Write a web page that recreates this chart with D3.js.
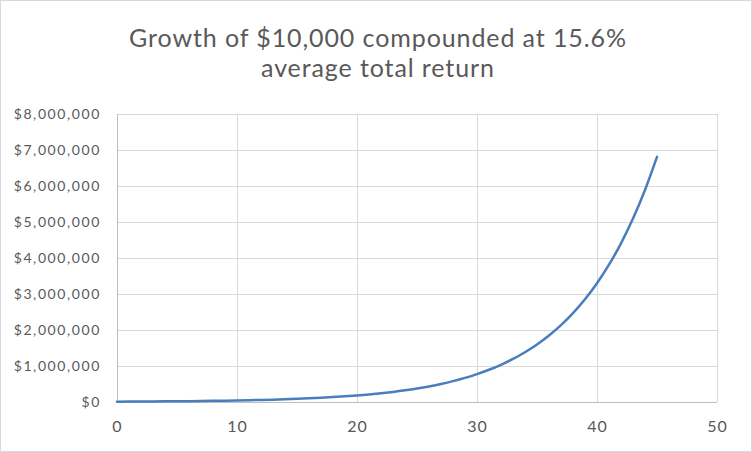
<!DOCTYPE html>
<html><head><meta charset="utf-8">
<script src="https://cdn.jsdelivr.net/npm/d3@7"></script>
<style>body{margin:0;background:#fff}svg{display:block}</style>
</head><body>
<script>
const years = [0,1,2,3,4,5,6,7,8,9,10,11,12,13,14,15,16,17,18,19,20,21,22,23,24,25,26,27,28,29,30,31,32,33,34,35,36,37,38,39,40,41,42,43,44,45];
const values = [10000,11560,13363,15448,17858,20644,23864,27587,31891,36866,42617,49265,56950,65835,76105,87977,101702,117567,135907,157109,181618,209950,242703,280565,324333,374929,433418,501031,579192,669546,773995,894738,1034317,1195670,1382195,1597817,1847077,2135221,2468315,2853372,3298498,3813064,4407902,5095535,5890439,6809348];
const xTicks = [0,10,20,30,40,50];
const yTicks = [0,1000000,2000000,3000000,4000000,5000000,6000000,7000000,8000000];
const titleLines = ["Growth of $10,000 compounded  at 15.6%", "average total return"];

const W = 752, H = 452;
const svg = d3.select("body").append("svg").attr("width", W).attr("height", H);
svg.append("rect").attr("x",0.5).attr("y",0.5).attr("width",W-1).attr("height",H-1)
  .attr("fill","#fff").attr("stroke","#d9d9d9");

const x = d3.scaleLinear().domain([0,50]).range([117,717]);
const y = d3.scaleLinear().domain([0,8000000]).range([402,114]);
const font = "Lato, 'Open Sans', sans-serif";

// gridlines
svg.append("g").selectAll("line").data(yTicks.slice(1)).join("line")
  .attr("x1",x(0)).attr("x2",x(50)).attr("y1",d=>Math.round(y(d))+0.5).attr("y2",d=>Math.round(y(d))+0.5)
  .attr("stroke","#d9d9d9").attr("stroke-width",1);
svg.append("g").selectAll("line").data(xTicks.slice(1)).join("line")
  .attr("y1",y(0)).attr("y2",y(8000000)).attr("x1",d=>Math.round(x(d))+0.5).attr("x2",d=>Math.round(x(d))+0.5)
  .attr("stroke","#d9d9d9").attr("stroke-width",1);
// axis lines
svg.append("line").attr("x1",x(0)+0.5).attr("x2",x(0)+0.5).attr("y1",y(0)).attr("y2",y(8000000)).attr("stroke","#bfbfbf");
svg.append("line").attr("x1",x(0)).attr("x2",x(50)).attr("y1",Math.round(y(0))+0.5).attr("y2",Math.round(y(0))+0.5).attr("stroke","#bfbfbf");

// tick labels
const fmt = d3.format("$,.0f");
svg.append("g").selectAll("text").data(yTicks).join("text")
  .attr("x",101).attr("y",d=>y(d)).attr("dy","0.36em").attr("text-anchor","end")
  .attr("font-family",font).attr("font-size",14).attr("letter-spacing","1.6px")
  .attr("fill","#595959").text(d=>fmt(d));
svg.append("g").selectAll("text").data(xTicks).join("text")
  .attr("x",d=>x(d)+0.5).attr("y",432).attr("text-anchor","middle")
  .attr("font-family",font).attr("font-size",16).attr("letter-spacing","1px")
  .attr("fill","#595959").text(d=>d);

// line
const line = d3.line().x((d,i)=>x(years[i])).y(d=>y(d)).curve(d3.curveMonotoneX);
svg.append("path").datum(values).attr("d",line).attr("fill","none")
  .attr("stroke","#4a7ebb").attr("stroke-width",2.5).attr("stroke-linecap","round");

// title
svg.append("g").selectAll("text").data(titleLines).join("text")
  .attr("x",378).attr("y",(d,i)=>47+i*30).attr("text-anchor","middle")
  .attr("font-family",font).attr("font-size",25).attr("letter-spacing","0.9px")
  .attr("fill","#595959").text(d=>d);
</script>
</body></html>
